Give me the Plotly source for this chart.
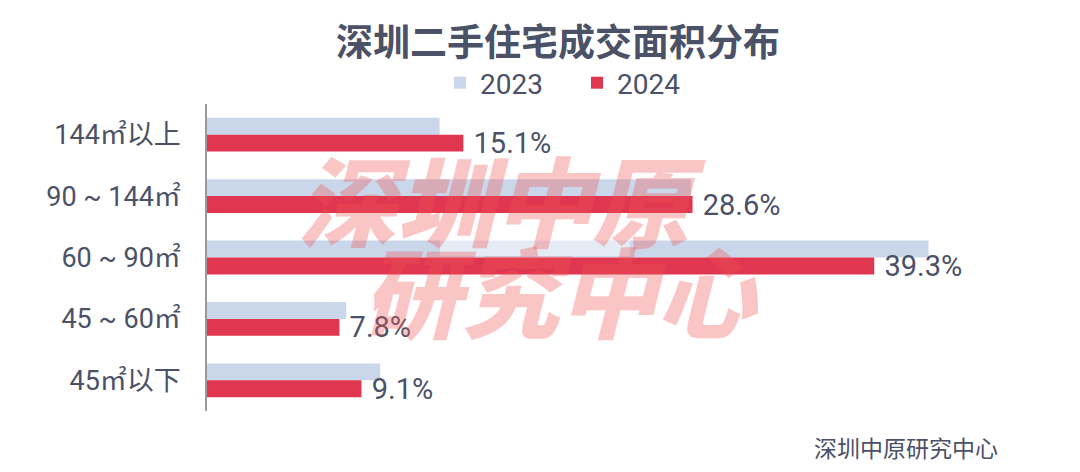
import plotly.graph_objects as go

categories = ["144㎡以上", "90 ~ 144㎡", "60 ~ 90㎡", "45 ~ 60㎡", "45㎡以下"]
values_2023 = [13.7, 28.5, 42.5, 8.2, 10.2]
values_2024 = [15.1, 28.6, 39.3, 7.8, 9.1]
series_names = ["2023", "2024"]

TEXT = "#4b5166"
FONT = "Roboto, 'Noto Sans CJK SC', sans-serif"
CJK = "'Noto Sans CJK SC', sans-serif"

W, H = 1080, 472
L, R, T, B = 207, 109, 104, 61
PW, PH = W - L - R, H - T - B


def px(xp):
    return (xp - L) / PW


def py(yp):
    return (H - B - yp) / PH


fig = go.Figure()
fig.add_trace(go.Bar(
    y=categories, x=values_2023, name=series_names[0], orientation="h",
    marker=dict(color="#cad7ea", line=dict(width=0)),
))
fig.add_trace(go.Bar(
    y=categories, x=values_2024, name=series_names[1], orientation="h",
    marker=dict(color="#e0364f", line=dict(width=0)),
    text=values_2024, texttemplate=" %{x:.1f}%", textposition="outside",
    constraintext="none",
    textfont=dict(family=FONT, size=29, color=TEXT), cliponaxis=False,
))

# watermark
wm_font = dict(family=CJK, size=98, color="rgba(240,85,85,0.34)", style="italic", weight=900)
fig.add_annotation(text="深圳中原", xref="paper", yref="paper", x=px(502), y=py(197),
                   showarrow=False, font=wm_font, xanchor="center", yanchor="middle")
fig.add_annotation(text="研究中心", xref="paper", yref="paper", x=px(561), y=py(288),
                   showarrow=False, font=wm_font, xanchor="center", yanchor="middle")
# blurred patch
fig.add_shape(type="rect", xref="paper", yref="paper", x0=px(440), x1=px(630), y0=py(256), y1=py(222),
              fillcolor="rgba(255,255,255,0.5)", line=dict(width=0), layer="above")
# footer
fig.add_annotation(text="深圳中原研究中心", xref="paper", yref="paper", x=px(812), y=py(447),
                   xanchor="left", yanchor="middle", showarrow=False,
                   font=dict(family=CJK, size=23, color=TEXT))

fig.update_layout(
    width=W, height=H,
    paper_bgcolor="white", plot_bgcolor="white",
    margin=dict(l=L, r=R, t=T, b=B, autoexpand=False),
    barmode="group", bargap=0.45, bargroupgap=0,
    title=dict(text="<b>深圳二手住宅成交面积分布</b>", x=558 / W, xanchor="center", xref="container",
               y=1 - 43 / H, yref="container", yanchor="middle",
               font=dict(family=CJK, size=37, color=TEXT)),
    legend=dict(orientation="h", x=440 / W, xanchor="left", xref="container",
                y=1 - 83 / H, yref="container", yanchor="middle",
                font=dict(family=FONT, size=28, color=TEXT), itemwidth=30,
                entrywidth=92, entrywidthmode="pixels",
                traceorder="normal"),
    showlegend=True,
    font=dict(family=FONT, color=TEXT),
)
fig.update_xaxes(range=[0, 45], visible=False, showgrid=False, zeroline=False)
fig.update_yaxes(autorange="reversed", showline=True, linecolor="#9a9a9a", linewidth=1.5,
                 ticks="", showgrid=False, ticklabelstandoff=19, automargin=False,
                 tickfont=dict(family=FONT, size=27, color=TEXT))

fig.write_html("out.html", config={"displayModeBar": False},
               post_script="document.body.style.margin='0';document.body.style.overflow='hidden';")
